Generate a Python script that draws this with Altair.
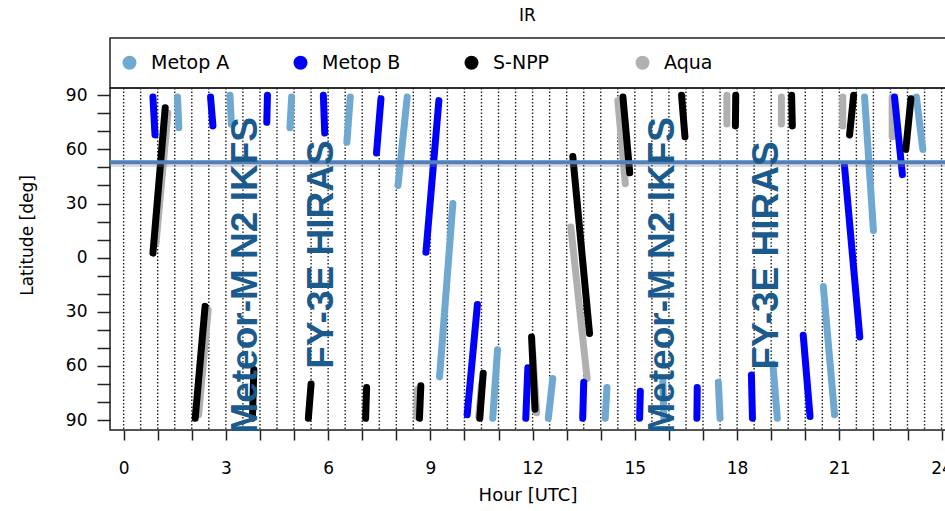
import altair as alt
import pandas as pd

# ---------------- data ----------------
satellites = ["Metop A", "Metop B", "S-NPP", "Aqua"]
sat_colors = ["#6fa8d1", "#0000ff", "#000000", "#b0b0b0"]

# each pass: (hour_start, lat_start, hour_end, lat_end)
metop_a = [(1.58, 89, 1.62, 72), (3.12, 90, 3.16, 74), (4.93, 89, 4.88, 72),
           (6.65, 89, 6.55, 64), (8.32, 89, 8.05, 40), (9.66, 30, 9.27, -66),
           (10.97, -51, 10.83, -89), (12.59, -67, 12.46, -89), (14.18, -72, 14.13, -89),
           (15.82, -68, 15.85, -89), (17.45, -69, 17.50, -89), (19.05, -59, 19.18, -89),
           (20.53, -16, 20.86, -87), (21.74, 89, 22.00, 15), (23.26, 89, 23.45, 60)]
metop_b = [(0.86, 89, 0.92, 68), (2.55, 89, 2.62, 73), (4.22, 90, 4.20, 75),
           (5.86, 90, 5.90, 69), (7.55, 88, 7.42, 58), (9.25, 87, 8.87, 3),
           (10.38, -26, 10.08, -87), (11.86, -61, 11.80, -89), (13.50, -69, 13.47, -89),
           (15.16, -74, 15.14, -89), (16.83, -72, 16.82, -89), (18.42, -65, 18.45, -89),
           (19.94, -43, 20.14, -88), (21.15, 51, 21.60, -44), (22.62, 89, 22.85, 46)]
s_npp = [(1.22, 83, 0.86, 2.5), (2.39, -27, 2.10, -89), (3.82, -62, 3.78, -89),
         (5.50, -70, 5.42, -89), (7.13, -72, 7.10, -89), (8.72, -71, 8.68, -89),
         (10.55, -64, 10.45, -89), (11.97, -44, 12.07, -84), (13.18, 56, 13.67, -42),
         (14.65, 89, 14.85, 47), (16.37, 90, 16.47, 67), (17.96, 90, 17.95, 73),
         (19.60, 90, 19.62, 73), (21.42, 90, 21.30, 68), (23.10, 88, 22.95, 60)]
aqua = [(1.30, 80, 0.95, 8), (2.48, -29, 2.20, -87), (8.62, -73, 8.60, -88),
        (10.50, -70, 10.42, -88), (12.00, -52, 12.12, -86), (13.12, 17, 13.60, -67),
        (14.50, 87, 14.72, 41), (17.70, 90, 17.70, 74), (19.30, 89, 19.30, 74),
        (21.10, 89, 21.10, 73), (22.55, 89, 22.55, 67)]

threshold_lat = [52.9]
grid_hours = [h / 2 for h in range(0, 49)]
x_ticks = list(range(0, 25))
y_ticks = list(range(-90, 91, 10))

ann_text = ["Meteor-M N2 IKFS", "FY-3E HIRAS", "Meteor-M N2 IKFS", "FY-3E HIRAS"]
ann_hour = [3.59, 5.81, 15.84, 18.87]
ann_lat = [-97.5, -61.5, -97.5, -62.0]

# ---------------- tables ----------------
rows = []
for name, passes in [("Aqua", aqua), ("Metop A", metop_a), ("Metop B", metop_b), ("S-NPP", s_npp)]:
    for h1, l1, h2, l2 in passes:
        rows.append({"sat": name, "h1": h1, "lat1": l1, "h2": h2, "lat2": l2})
seg = pd.DataFrame(rows)
grid_df = pd.DataFrame({"h": grid_hours})
line_df = pd.DataFrame({"lat": threshold_lat})
shadow_df = pd.DataFrame({"lat": [v - 1.3 for v in threshold_lat]})
ann_df = pd.DataFrame({"text": ann_text, "h": ann_hour, "lat": ann_lat})

FONT = "DejaVu Sans"
W, H = 835, 342

xscale = alt.Scale(domain=[-0.4, 24.1], nice=False, zero=False)
yscale = alt.Scale(domain=[-95.5, 94], nice=False, zero=False)

xaxis = alt.Axis(values=x_ticks, labelExpr="datum.value % 3 === 0 ? datum.label : ''",
                 title="Hour [UTC]", grid=False, domain=False, tickSize=10, tickWidth=1.5,
                 tickColor="#222", labelFont=FONT, labelFontSize=17, labelColor="black",
                 labelPadding=20, labelFlush=False, labelOverlap=False, labelBound=False,
                 titleFont=FONT, titleFontSize=18, titleFontWeight="normal",
                 titleColor="black", titlePadding=10)
yaxis = alt.Axis(values=y_ticks,
                 labelExpr="datum.value % 30 === 0 ? '' + abs(datum.value) : ''",
                 title="Latitude [deg]", grid=False, domain=False, tickSize=13, tickWidth=1.5,
                 tickColor="#222", labelFont=FONT, labelFontSize=17, labelColor="black",
                 labelPadding=10, labelFlush=False, labelOverlap=False, labelBound=False,
                 titleFont=FONT, titleFontSize=17, titleFontWeight="normal",
                 titleColor="black", titleX=-83, titleY=147, titleAlign="center",
                 titleBaseline="middle", titleAngle=270)

X = lambda f: alt.X(f, type="quantitative", scale=xscale, axis=xaxis)
Y = lambda f: alt.Y(f, type="quantitative", scale=yscale, axis=yaxis)

color = alt.Color("sat:N", scale=alt.Scale(domain=satellites, range=sat_colors),
                  legend=alt.Legend(orient="none", legendX=10, legendY=-35,
                                    direction="horizontal", columns=4, gridAlign="all",
                                    columnPadding=61, symbolType="circle", symbolSize=196,
                                    symbolStrokeWidth=0, labelFont=FONT, labelFontSize=19,
                                    labelColor="black", labelOffset=12, title=None, padding=0))

legend_dummy = alt.Chart(seg).mark_circle(size=0, opacity=1).encode(
    x=X("h1"), y=Y("lat1"), color=color)

legend_box = alt.Chart(pd.DataFrame({"k": [0]})).mark_rect(
    fill="white", stroke="#222", strokeWidth=1.5).encode(
    x=alt.value(0), x2=alt.value(W + 20), y=alt.value(-50), y2=alt.value(0))

frame = alt.Chart(pd.DataFrame({"k": [0]})).mark_rect(
    fill="transparent", stroke="#222", strokeWidth=1.5).encode(
    x=alt.value(0), x2=alt.value(W + 20), y=alt.value(0), y2=alt.value(H))

grid = alt.Chart(grid_df).mark_rule(color="#222", strokeWidth=1.4, strokeDash=[1.5, 2]).encode(
    x=X("h"))

segments = alt.Chart(seg).mark_rule(strokeWidth=7, strokeCap="round").encode(
    x=X("h1"), y=Y("lat1"), x2="h2", y2="lat2", color=color)

shadow = alt.Chart(shadow_df).mark_rule(color="#888", strokeWidth=5, opacity=0.3).encode(
    y=Y("lat"))
hline = alt.Chart(line_df).mark_rule(color="#4f81bd", strokeWidth=4).encode(y=Y("lat"))

ann = alt.Chart(ann_df).mark_text(angle=270, align="left", baseline="middle",
                                  font="Liberation Sans", fontWeight="bold", fontSize=37,
                                  color="#1b5a8c").encode(x=X("h"), y=Y("lat"), text="text:N")

chart = alt.layer(legend_dummy, legend_box, frame, grid, segments, shadow, hline, ann).properties(
    width=W, height=H,
    title=alt.TitleParams("IR", font=FONT, fontSize=17, fontWeight="normal", color="black",
                          offset=12),
    autosize=alt.AutoSizeParams(type="none"),
    padding={"left": 110, "top": 88, "right": 0, "bottom": 81},
).configure_view(stroke=None).configure(background="white")

chart.save("out.html", embed_options={"renderer": "svg", "actions": False})
